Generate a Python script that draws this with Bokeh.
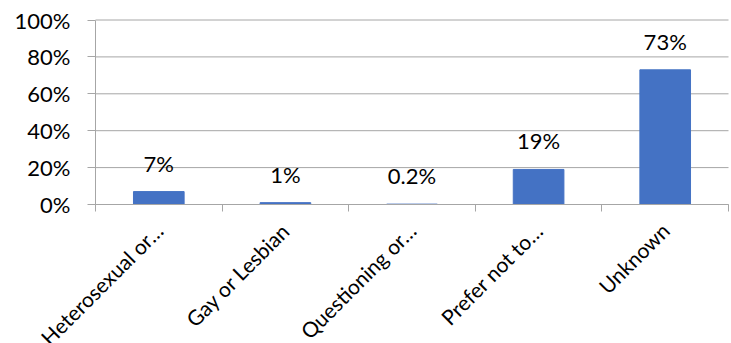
from bokeh.plotting import figure
from bokeh.models import FixedTicker, NumeralTickFormatter, ColumnDataSource, Range1d
from bokeh.embed import file_html
from bokeh.resources import INLINE
from bokeh.core.properties import value
import math

categories = ["Heterosexual or\u2026", "Gay or Lesbian", "Questioning or\u2026", "Prefer not to\u2026", "Unknown"]
percent_values = [7, 1, 0.2, 19, 73]
y_ticks = [0, 0.2, 0.4, 0.6, 0.8, 1.0]

FONT = "Lato"
GRAY = "#a6a6a6"

# page layout (pixels): the plotting area of the chart inside the figure
W, H = 731, 343
AREA_LEFT, AREA_RIGHT = 95, 728     # x pixel of the left / right edge of the bar area
AREA_TOP, AREA_ZERO = 19.5, 204     # y pixel of the 100% and 0% lines

n = len(categories)
px_per_cat = (AREA_RIGHT - AREA_LEFT) / n
px_per_unit = (AREA_ZERO - AREA_TOP) / 1.0
x_range = Range1d(-AREA_LEFT / px_per_cat, n + (W - AREA_RIGHT) / px_per_cat)
y_range = Range1d(-(H - AREA_ZERO) / px_per_unit, 1.0 + AREA_TOP / px_per_unit)

shares = [v / 100 for v in percent_values]
x_pos = [i + 0.5 for i in range(n)]
labels = [f"{v:g}%" for v in percent_values]

src = ColumnDataSource(dict(x=x_pos, top=shares, label=labels))

p = figure(width=W, height=H, output_backend="svg", toolbar_location=None,
           x_range=x_range, y_range=y_range,
           min_border_left=0, min_border_right=0, min_border_top=0, min_border_bottom=0)
p.outline_line_color = None
p.background_fill_color = "white"
p.border_fill_color = "white"

# horizontal gridlines spanning only the bar area
grid_src = ColumnDataSource(dict(x0=[0] * len(y_ticks), x1=[n] * len(y_ticks), y=y_ticks))
p.segment(x0="x0", x1="x1", y0="y", y1="y", source=grid_src, line_color=GRAY, line_width=1)
p.ygrid.grid_line_color = None
p.xgrid.grid_line_color = None

p.vbar(x="x", top="top", width=0.4, source=src, fill_color="#4472C4", line_color="#4472C4")
p.text(x="x", y="top", text="label", source=src, y_offset=-15,
       text_align="center", text_baseline="bottom",
       text_font=value(FONT), text_font_size="22px", text_color="#000000")

# x axis drawn at the 0% line: boundary ticks + rotated category names
p.xaxis.fixed_location = 0
p.xaxis.bounds = (0, n)
p.xaxis.ticker = FixedTicker(ticks=x_pos, minor_ticks=list(range(n + 1)))
p.xaxis.major_label_overrides = {x: c for x, c in zip(x_pos, categories)}
p.xaxis.major_tick_line_color = None
p.xaxis.major_tick_in = 0
p.xaxis.major_tick_out = 0
p.xaxis.major_label_orientation = math.pi / 4
p.xaxis.major_label_standoff = 15
p.xaxis.major_label_text_font = FONT
p.xaxis.major_label_text_font_size = "21px"
p.xaxis.major_label_text_color = "#000000"
p.xaxis.minor_tick_in = 0
p.xaxis.minor_tick_out = 7
p.xaxis.minor_tick_line_color = GRAY
p.xaxis.axis_line_color = GRAY

# y axis at x = 0, drawn only over 0%..100%
p.yaxis.fixed_location = 0
p.yaxis.bounds = (0, 1)
p.yaxis.ticker = FixedTicker(ticks=y_ticks)
p.yaxis.formatter = NumeralTickFormatter(format="0%")
p.yaxis.axis_line_color = GRAY
p.yaxis.major_tick_line_color = GRAY
p.yaxis.major_tick_in = 0
p.yaxis.major_tick_out = 8
p.yaxis.minor_tick_line_color = None
p.yaxis.major_label_standoff = 17
p.yaxis.major_label_text_font = FONT
p.yaxis.major_label_text_font_size = "22px"
p.yaxis.major_label_text_color = "#000000"

open("out.html", "w").write(file_html(p, INLINE))
